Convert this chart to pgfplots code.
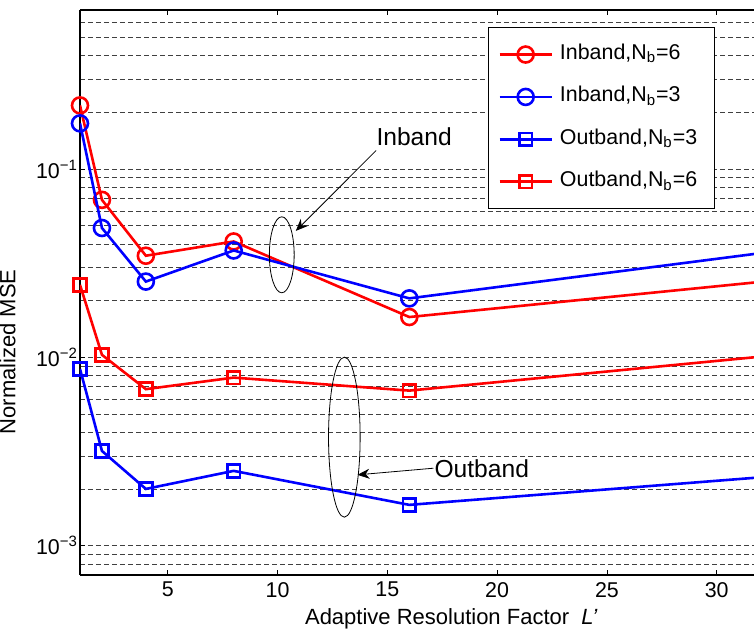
\documentclass[border=0pt]{standalone}
\usepackage{fontspec}
\setmainfont{Liberation Sans}
\usepackage{pgfplots}
\pgfplotsset{compat=1.18}
\usetikzlibrary{arrows.meta}
\definecolor{mred}{RGB}{255,0,0}
\definecolor{mblue}{RGB}{0,0,255}
\begin{document}
\begin{tikzpicture}
\useasboundingbox (-40pt,-30.5pt) rectangle (337pt,287.5pt);
\begin{axis}[
  scale only axis, width=337pt, height=282.5pt,
  ymode=log, xmin=1, xmax=31.7, ymin=7e-4, ymax=0.7,
  axis x line*=box, axis y line*=left,
  axis line style={line width=0.6pt},
  xtick={5,10,15,20,25,30},
  ytick={1e-3,1e-2,1e-1},
  yticklabels={10\textsuperscript{−3},10\textsuperscript{−2},10\textsuperscript{−1}},
  minor ytick={8e-4,9e-4,2e-3,3e-3,4e-3,5e-3,6e-3,7e-3,8e-3,9e-3,2e-2,3e-2,4e-2,5e-2,6e-2,7e-2,8e-2,9e-2,0.2,0.3,0.4,0.5,0.6},
  ymajorgrids, yminorgrids,
  major grid style={black!75, line width=0.4pt, dash pattern=on 2.5pt off 1.5pt},
  minor grid style={black!75, line width=0.4pt, dash pattern=on 2.5pt off 1.5pt},
  tick align=inside, major tick length=2.5pt, minor tick length=0pt,
  tick style={black, line width=0.4pt},
  /pgf/number format/assume math mode=true,
  tick label style={font=\fontsize{10.7}{12}\selectfont},
  y tick label style={xshift=2.5pt},
  xlabel={Adaptive Resolution Factor\ \ \textit{L’}},
  ylabel={Normalized MSE},
  x label style={at={(axis description cs:0.551,-0.087)}, anchor=base, font=\fontsize{11}{13}\selectfont},
  y label style={at={(axis description cs:-0.085,0.395)}, anchor=south, rotate=0, font=\fontsize{11}{13}\selectfont},
  clip mode=individual,
  legend style={at={(rel axis cs:0.605,0.97)}, anchor=north west, draw=black, line width=0.6pt, fill=white,
    font=\fontsize{10.7}{12}\selectfont, inner xsep=5pt, inner ysep=7pt, row sep=8.2pt,
    nodes={inner ysep=1.5pt, inner xsep=3.5pt, text height=7.5pt, text depth=2.5pt}},
  legend cell align=left,
  legend image code/.code={\draw[#1, mark indices={2}] plot coordinates {(0pt,0pt) (13pt,0pt) (26pt,0pt)};},
  every axis plot/.append style={line width=1.3pt, mark indices={1,2,3,4,5}},
]
\addplot[mred, mark=o, mark size=4pt, mark options={solid}] coordinates {(1,0.218) (2,0.0687) (4,0.0347) (8,0.0413) (16,0.0164) (32,0.0252)};
\addlegendentry{Inband,N\textsubscript{b}=6}
\addplot[mblue, mark=o, mark size=4pt, mark options={solid}] coordinates {(1,0.175) (2,0.0487) (4,0.0253) (8,0.037) (16,0.0206) (32,0.0358)};
\addlegendentry{Inband,N\textsubscript{b}=3}
\addplot[mblue, mark=square, mark size=3.2pt, mark options={solid}] coordinates {(1,0.00869) (2,0.00319) (4,0.002005) (8,0.0025) (16,0.00165) (32,0.00231)};
\addlegendentry{Outband,N\textsubscript{b}=3}
\addplot[mred, mark=square, mark size=3.2pt, mark options={solid}] coordinates {(1,0.0243) (2,0.01033) (4,0.00679) (8,0.00782) (16,0.00667) (32,0.0101)};
\addlegendentry{Outband,N\textsubscript{b}=6}
\draw[black, line width=0.4pt] (axis cs:10.19,0.0351) ellipse [x radius=6.2pt, y radius=19pt];
\draw[black, line width=0.4pt] (axis cs:13.04,0.003776) ellipse [x radius=7.9pt, y radius=40pt];
\draw[black, line width=0.4pt, -{Stealth[length=6pt,width=5pt]}] (axis cs:14.49,0.1256) -- (axis cs:10.83,0.0470);
\draw[black, line width=0.4pt, -{Stealth[length=6pt,width=5pt]}] (axis cs:17.10,0.002583) -- (axis cs:13.64,0.002382);
\node[font=\fontsize{12.3}{14}\selectfont, inner sep=0pt] at (axis cs:16.22,0.148) {Inband};
\node[font=\fontsize{12.3}{14}\selectfont, inner sep=0pt] at (axis cs:19.30,0.002553) {Outband};
\end{axis}
\end{tikzpicture}
\end{document}
